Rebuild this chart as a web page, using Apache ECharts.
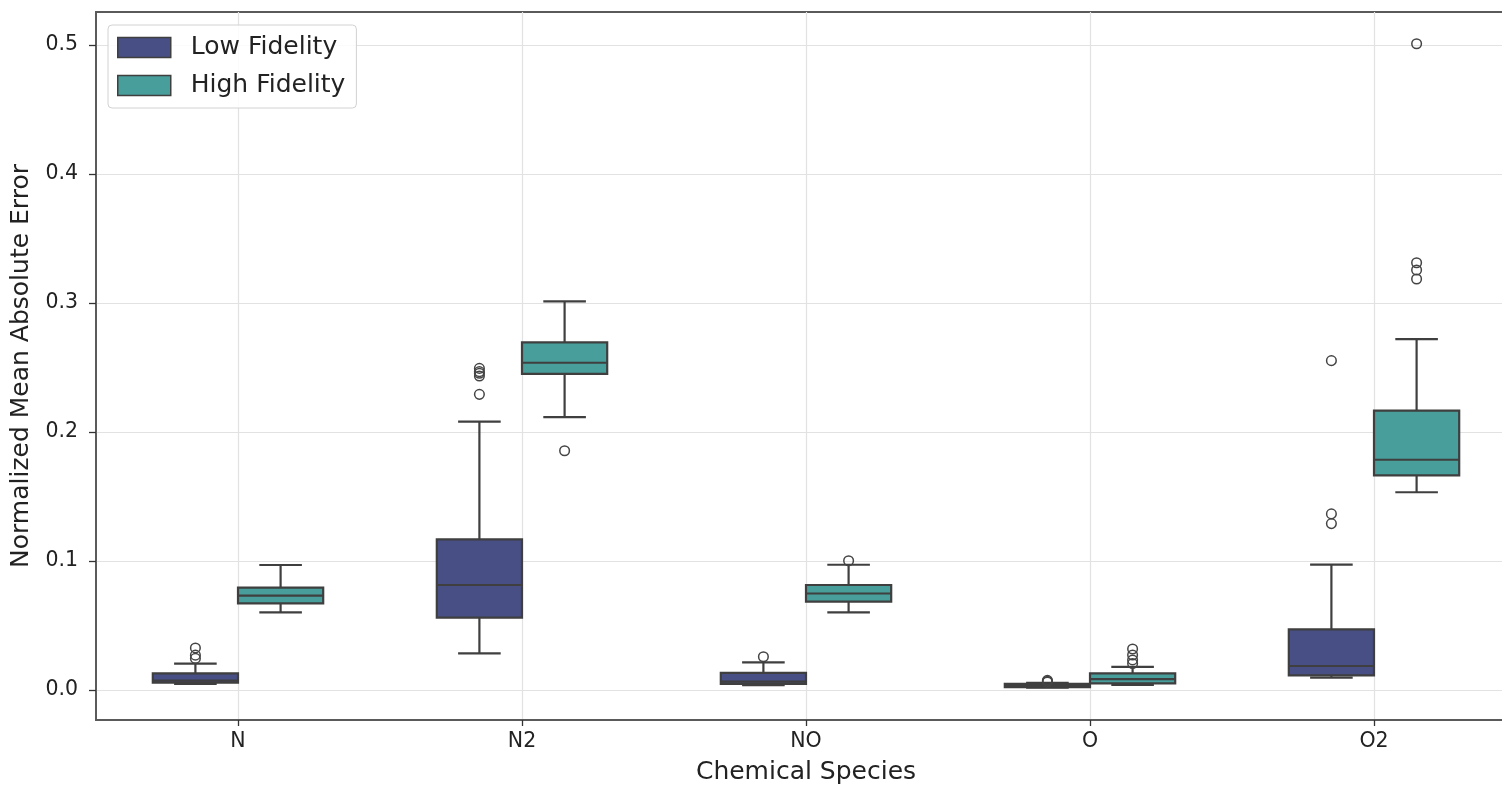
<!DOCTYPE html>
<html>
<head>
<meta charset="utf-8">
<script src="https://cdn.jsdelivr.net/npm/echarts@6/dist/echarts.min.js"></script>
<style>
  html, body { margin: 0; padding: 0; background: #ffffff; overflow: hidden; }
  #chart { width: 1502px; height: 787px; }
</style>
</head>
<body>
<div id="chart"></div>
<script>
// Chemical species on the x axis
const species = ['N', 'N2', 'NO', 'O', 'O2'];

// Box statistics per species: [lower whisker, Q1, median, Q3, upper whisker]
const lowFidelityStats = [
  [0.0047, 0.0057, 0.0072, 0.0129, 0.0204],
  [0.0284, 0.0561, 0.0814, 0.1168, 0.2080],
  [0.0038, 0.0047, 0.0065, 0.0132, 0.0214],
  [0.0018, 0.0023, 0.0030, 0.0048, 0.0055],
  [0.0096, 0.0113, 0.0186, 0.0470, 0.0972]
];
const highFidelityStats = [
  [0.0602, 0.0672, 0.0731, 0.0793, 0.0969],
  [0.2116, 0.2450, 0.2537, 0.2695, 0.3013],
  [0.0602, 0.0685, 0.0748, 0.0814, 0.0971],
  [0.0039, 0.0052, 0.0085, 0.0129, 0.0180],
  [0.1533, 0.1664, 0.1785, 0.2166, 0.2720]
];

// Outlying points per species
const lowFidelityOutliers = [
  [0.0245, 0.0270, 0.0326],
  [0.2292, 0.2434, 0.2455, 0.2468, 0.2493],
  [0.0258],
  [0.0062, 0.0068, 0.0075],
  [0.1290, 0.1365, 0.2553]
];
const highFidelityOutliers = [
  [],
  [0.1855],
  [0.1002],
  [0.0205, 0.0233, 0.0271, 0.0318],
  [0.3186, 0.3256, 0.3312, 0.5010]
];

// Value axis ticks
const yTicks = [0.0, 0.1, 0.2, 0.3, 0.4, 0.5];
const yRange = [-0.02326, 0.5256];

const LOW_COLOR = '#474f84';
const HIGH_COLOR = '#479e9b';
const LINE_COLOR = '#3f3f3f';

function boxData(stats) {
  return stats.map((s, i) => [i].concat(s));
}
function outlierData(lists) {
  const out = [];
  lists.forEach((vals, i) => vals.forEach(v => out.push([i, v])));
  return out;
}

// Draws one dodged box (whiskers, caps, box, median) per category
function makeBoxRenderer(offset, fill) {
  return function (params, api) {
    const xi = api.value(0);
    const band = api.size([1, 0])[0];
    const cx = api.coord([xi, 0])[0] + offset * band;
    const halfW = 0.15 * band;
    const capHalf = halfW / 2;
    const y = k => api.coord([xi, api.value(k)])[1];
    const yMin = y(1), yQ1 = y(2), yMed = y(3), yQ3 = y(4), yMax = y(5);
    const lineStyle = { stroke: LINE_COLOR, lineWidth: 2.2, fill: null };
    return {
      type: 'group',
      children: [
        { type: 'line', shape: { x1: cx, y1: yQ3, x2: cx, y2: yMax }, style: lineStyle },
        { type: 'line', shape: { x1: cx, y1: yQ1, x2: cx, y2: yMin }, style: lineStyle },
        { type: 'line', shape: { x1: cx - capHalf, y1: yMax, x2: cx + capHalf, y2: yMax }, style: lineStyle },
        { type: 'line', shape: { x1: cx - capHalf, y1: yMin, x2: cx + capHalf, y2: yMin }, style: lineStyle },
        {
          type: 'rect',
          shape: { x: cx - halfW, y: yQ3, width: 2 * halfW, height: yQ1 - yQ3 },
          style: { fill: fill, stroke: LINE_COLOR, lineWidth: 2.2 }
        },
        { type: 'line', shape: { x1: cx - halfW, y1: yMed, x2: cx + halfW, y2: yMed }, style: lineStyle }
      ]
    };
  };
}

// Draws hollow circles for the outlying points
function makeOutlierRenderer(offset) {
  return function (params, api) {
    const xi = api.value(0);
    const band = api.size([1, 0])[0];
    const p = api.coord([xi, api.value(1)]);
    return {
      type: 'circle',
      shape: { cx: p[0] + offset * band, cy: p[1], r: 4.8 },
      style: { fill: 'rgba(255,255,255,0)', stroke: '#444444', lineWidth: 1.5 }
    };
  };
}

const chart = echarts.init(document.getElementById('chart'), null, { renderer: 'canvas' });

const textColor = '#222222';
const gridColor = '#e2e2e2';
const spineColor = '#5a5a5a';

chart.setOption({
  animation: false,
  backgroundColor: '#ffffff',
  textStyle: { fontFamily: 'DejaVu Sans' },
  grid: {
    // the plot frame runs slightly past the right edge of the canvas
    left: 96, right: -14, top: 12, bottom: 67,
    outerBoundsMode: 'none',
    containLabel: false,
    show: true, borderColor: spineColor, borderWidth: 1.8, backgroundColor: 'transparent'
  },
  legend: {
    orient: 'vertical',
    left: 108, top: 25,
    padding: [10, 11, 10, 9],
    itemGap: 13,
    itemWidth: 53, itemHeight: 20,
    icon: 'rect',
    borderColor: '#d2d2d2', borderWidth: 1, borderRadius: 4,
    backgroundColor: 'rgba(255,255,255,0.85)',
    textStyle: { fontSize: 25, color: textColor, fontFamily: 'DejaVu Sans', padding: [0, 0, 0, 15] },
    data: [
      { name: 'Low Fidelity', itemStyle: { color: LOW_COLOR, borderColor: LINE_COLOR, borderWidth: 1.5 } },
      { name: 'High Fidelity', itemStyle: { color: HIGH_COLOR, borderColor: LINE_COLOR, borderWidth: 1.5 } }
    ]
  },
  xAxis: {
    type: 'value',
    min: -0.5, max: 4.5,
    name: 'Chemical Species',
    nameLocation: 'middle',
    nameGap: 40,
    nameTextStyle: { fontSize: 25, color: textColor, fontFamily: 'DejaVu Sans' },
    axisLine: { show: true, onZero: false, lineStyle: { color: spineColor, width: 1.8 } },
    axisTick: { show: true, length: 6, customValues: [0, 1, 2, 3, 4], lineStyle: { color: '#333', width: 1.3 } },
    axisLabel: {
      customValues: [0, 1, 2, 3, 4],
      formatter: v => species[Math.round(v)],
      fontSize: 20.5, color: textColor, margin: 11, fontFamily: 'DejaVu Sans'
    },
    splitLine: { show: true, lineStyle: { color: gridColor, width: 1.2 } }
  },
  yAxis: {
    type: 'value',
    min: yRange[0], max: yRange[1],
    name: 'Normalized Mean Absolute Error',
    nameLocation: 'middle',
    nameGap: 61,
    nameTextStyle: { fontSize: 25, color: textColor, fontFamily: 'DejaVu Sans' },
    axisLine: { show: true, onZero: false, lineStyle: { color: spineColor, width: 1.8 } },
    axisTick: { show: true, length: 7, customValues: yTicks, lineStyle: { color: '#333', width: 1.3 } },
    axisLabel: {
      customValues: yTicks,
      formatter: v => v.toFixed(1),
      fontSize: 20.5, color: textColor, margin: 18, fontFamily: 'DejaVu Sans'
    },
    splitLine: { show: true, lineStyle: { color: gridColor, width: 1.2 } }
  },
  series: [
    {
      name: 'Low Fidelity',
      type: 'custom',
      itemStyle: { color: LOW_COLOR, borderColor: LINE_COLOR, borderWidth: 1.5 },
      renderItem: makeBoxRenderer(-0.15, LOW_COLOR),
      encode: { x: 0, y: [1, 2, 3, 4, 5] },
      data: boxData(lowFidelityStats),
      z: 3
    },
    {
      name: 'High Fidelity',
      type: 'custom',
      itemStyle: { color: HIGH_COLOR, borderColor: LINE_COLOR, borderWidth: 1.5 },
      renderItem: makeBoxRenderer(0.15, HIGH_COLOR),
      encode: { x: 0, y: [1, 2, 3, 4, 5] },
      data: boxData(highFidelityStats),
      z: 3
    },
    {
      name: 'Low Fidelity outliers',
      type: 'custom',
      renderItem: makeOutlierRenderer(-0.15),
      encode: { x: 0, y: 1 },
      data: outlierData(lowFidelityOutliers),
      z: 4
    },
    {
      name: 'High Fidelity outliers',
      type: 'custom',
      renderItem: makeOutlierRenderer(0.15),
      encode: { x: 0, y: 1 },
      data: outlierData(highFidelityOutliers),
      z: 4
    }
  ]
});
</script>
</body>
</html>
